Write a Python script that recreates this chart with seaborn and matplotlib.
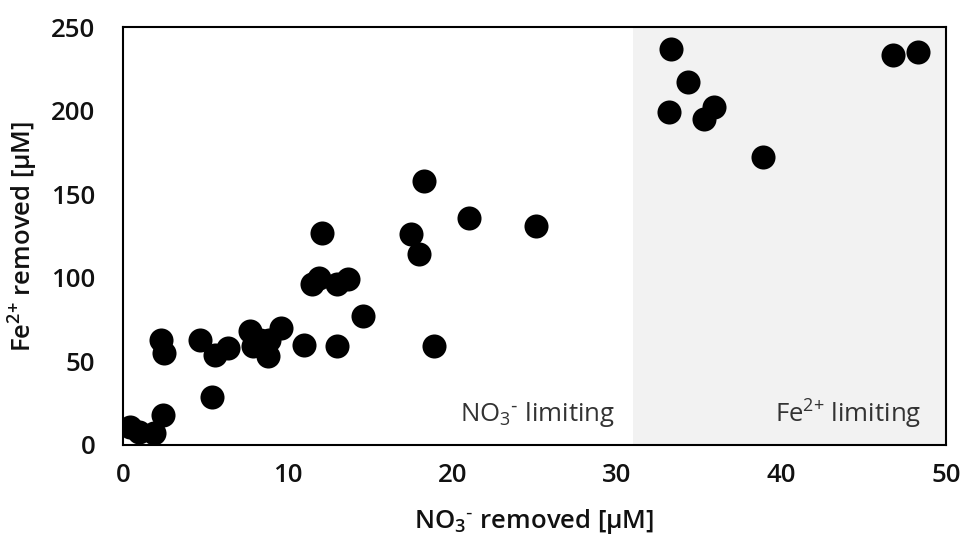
import pandas as pd
import matplotlib.pyplot as plt
import seaborn as sns

# NO3- removed vs Fe2+ removed (uM)
no3_removed = [0.4, 1.0, 1.9, 2.4, 2.3, 2.5, 4.7, 5.4, 5.6, 6.4, 7.7, 7.9, 8.3, 8.8,
               8.9, 9.6, 11.0, 11.5, 11.9, 12.1, 13.0, 13.0, 13.7, 14.6, 17.5, 18.0,
               18.3, 18.9, 21.0, 25.1, 33.3, 34.3, 33.2, 35.9, 35.3, 38.9, 46.8, 48.3]
fe_removed = [11, 8, 7, 18, 63, 55, 63, 29, 54, 58, 68, 59, 63, 53,
              63, 70, 60, 96, 100, 127, 96, 59, 99, 77, 126, 114,
              158, 59, 136, 131, 237, 217, 199, 202, 195, 172, 233, 235]

df = pd.DataFrame({"NO3": no3_removed, "Fe": fe_removed})

sns.set_style("white")
plt.rcParams['font.family'] = ['Open Sans', 'DejaVu Sans']
plt.rcParams['mathtext.default'] = 'regular'

fig = plt.figure(figsize=(9.64, 5.46), dpi=100)
ax = fig.add_axes([0.1276, 0.185, 0.8537, 0.7655])

# Fe2+ limiting zone
ax.axvspan(31, 50, color='#f2f2f2', zorder=0, lw=0)

sns.scatterplot(data=df, x="NO3", y="Fe", color='black', s=300,
                edgecolor='black', linewidth=0, ax=ax, zorder=3)

ax.set_xlim(0, 50)
ax.set_ylim(0, 250)
ax.set_xticks([0, 10, 20, 30, 40, 50])
ax.set_yticks([0, 50, 100, 150, 200, 250])
ax.tick_params(length=0, labelsize=18.5, labelcolor='#111111')
ax.tick_params(axis='x', pad=13)
ax.tick_params(axis='y', pad=20)
for lab in ax.get_xticklabels() + ax.get_yticklabels():
    lab.set_fontweight('semibold')

for sp in ax.spines.values():
    sp.set_visible(True)
    sp.set_color('black')
    sp.set_linewidth(1.5)

no3 = 'NO$_3$$^{\\text{-}}$'
fe = 'Fe$^{2{+}}$'
ax.set_xlabel(no3 + ' removed [µM]', fontsize=18.5, fontweight='semibold',
              labelpad=14, color='#111111')
ax.set_ylabel(fe + ' removed [µM]', fontsize=18.5, fontweight='semibold',
              labelpad=8, color='#111111')

ax.text(29.9, 18, no3 + ' limiting', fontsize=18.5, color='#333333', ha='right', va='center')
ax.text(48.5, 18, fe + ' limiting', fontsize=18.5, color='#333333', ha='right', va='center')

fig.savefig('out.png', dpi=100)
